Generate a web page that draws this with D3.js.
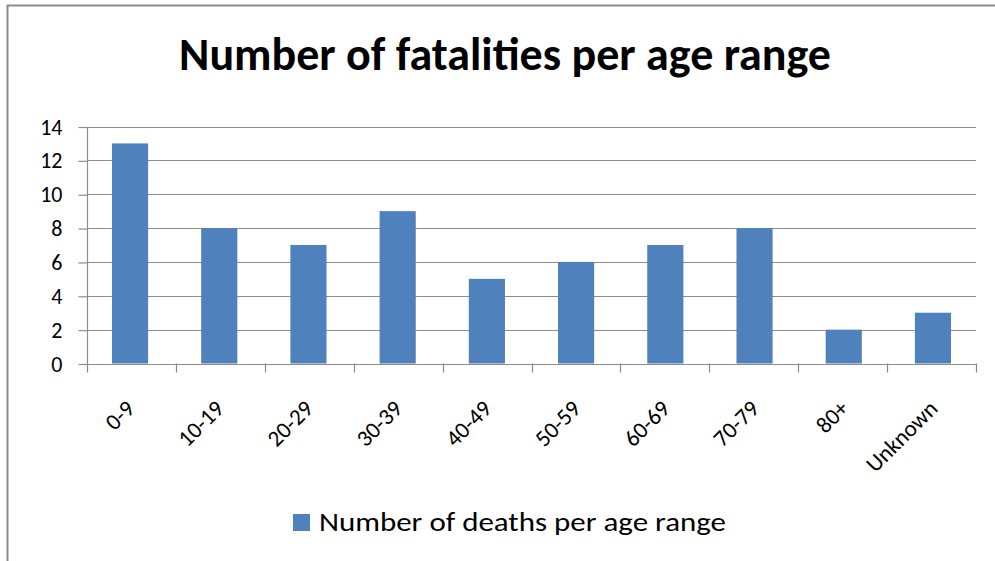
<!DOCTYPE html>
<html>
<head>
<meta charset="utf-8">
<script src="https://cdn.jsdelivr.net/npm/d3@7"></script>
<style>
  body { margin: 0; background: #fff; }
  text { font-family: Carlito, Calibri, Lato, sans-serif; fill: #000; }
</style>
</head>
<body>
<div id="chart"></div>
<script>
  const categories = ['0-9', '10-19', '20-29', '30-39', '40-49', '50-59', '60-69', '70-79', '80+', 'Unknown'];
  const deaths = [13, 8, 7, 9, 5, 6, 7, 8, 2, 3];
  const yTicks = [0, 2, 4, 6, 8, 10, 12, 14];
  const titleText = 'Number of fatalities per age range';
  const seriesName = 'Number of deaths per age range';

  const W = 995, H = 561;
  const plot = { left: 87, right: 976, top: 126.5, bottom: 363.5 };

  const svg = d3.select('#chart')
    .append('svg')
    .attr('width', W)
    .attr('height', H);

  // chart frame (only top and left edge show in the shot)
  svg.append('path')
    .attr('d', `M7.5,${H} V5.5 H${W}`)
    .attr('fill', 'none')
    .attr('stroke', '#8c8c8c')
    .attr('stroke-width', 2);

  svg.append('text')
    .attr('x', 505)
    .attr('y', 70)
    .attr('text-anchor', 'middle')
    .style('font-size', '46px')
    .style('font-weight', 'bold')
    .text(titleText);

  let xScale = d3.scaleBand()
    .domain(categories)
    .range([plot.left, plot.right])
    .paddingInner(0.595)
    .paddingOuter(0.28);

  let yScale = d3.scaleLinear()
    .domain([0, 14])
    .range([plot.bottom, plot.top]);

  // gridlines
  svg.append('g')
    .selectAll('line')
    .data(yTicks.filter(d => d > 0))
    .enter()
    .append('line')
    .attr('x1', plot.left)
    .attr('x2', plot.right)
    .attr('y1', d => Math.round(yScale(d)) + 0.5)
    .attr('y2', d => Math.round(yScale(d)) + 0.5)
    .attr('stroke', '#8c8c8c')
    .attr('stroke-width', 1.2);

  let yAxis = d3.axisLeft(yScale)
    .tickValues(yTicks)
    .tickSize(9)
    .tickPadding(16)
    .tickFormat(d3.format('d'));

  let gy = svg.append('g')
    .attr('transform', `translate(${plot.left + 0.5}, 0.5)`)
    .call(yAxis);
  gy.selectAll('line, path').attr('stroke', '#8c8c8c').attr('stroke-width', 1.2);
  gy.select('.domain').attr('d', `M0,${plot.bottom} V${plot.top}`);
  gy.selectAll('text')
    .style('font-size', '22px')
    .attr('fill', '#000');

  // bars
  svg.append('g')
    .selectAll('rect')
    .data(deaths)
    .enter()
    .append('rect')
    .attr('x', (d, i) => xScale(categories[i]))
    .attr('y', d => yScale(d))
    .attr('width', xScale.bandwidth())
    .attr('height', d => yScale(0) - yScale(d))
    .attr('fill', '#4f81bd');

  // x axis with ticks between categories
  let xEdges = d3.range(categories.length + 1).map(i => plot.left + i * (plot.right - plot.left) / categories.length);
  let gx = svg.append('g');
  gx.append('line')
    .attr('x1', plot.left)
    .attr('x2', plot.right)
    .attr('y1', Math.round(plot.bottom) + 0.5)
    .attr('y2', Math.round(plot.bottom) + 0.5)
    .attr('stroke', '#8c8c8c')
    .attr('stroke-width', 1.2);
  gx.selectAll('.xtick')
    .data(xEdges)
    .enter()
    .append('line')
    .attr('class', 'xtick')
    .attr('x1', d => Math.round(d) + 0.5)
    .attr('x2', d => Math.round(d) + 0.5)
    .attr('y1', plot.bottom)
    .attr('y2', plot.bottom + 9)
    .attr('stroke', '#8c8c8c')
    .attr('stroke-width', 1.2);

  gx.selectAll('.xlabel')
    .data(categories)
    .enter()
    .append('text')
    .attr('class', 'xlabel')
    .attr('text-anchor', 'end')
    .attr('transform', d => `translate(${xScale(d) + xScale.bandwidth() / 2 + 6}, 410) rotate(-45)`)
    .style('font-size', '23px')
    .text(d => d);

  // legend
  let legend = svg.append('g');
  legend.append('rect')
    .attr('x', 293)
    .attr('y', 514)
    .attr('width', 17)
    .attr('height', 17)
    .attr('fill', '#4f81bd');
  legend.append('text')
    .attr('x', 319)
    .attr('y', 531)
    .attr('textLength', 407)
    .attr('lengthAdjust', 'spacingAndGlyphs')
    .style('font-size', '26px')
    .text(seriesName);
</script>
</body>
</html>
